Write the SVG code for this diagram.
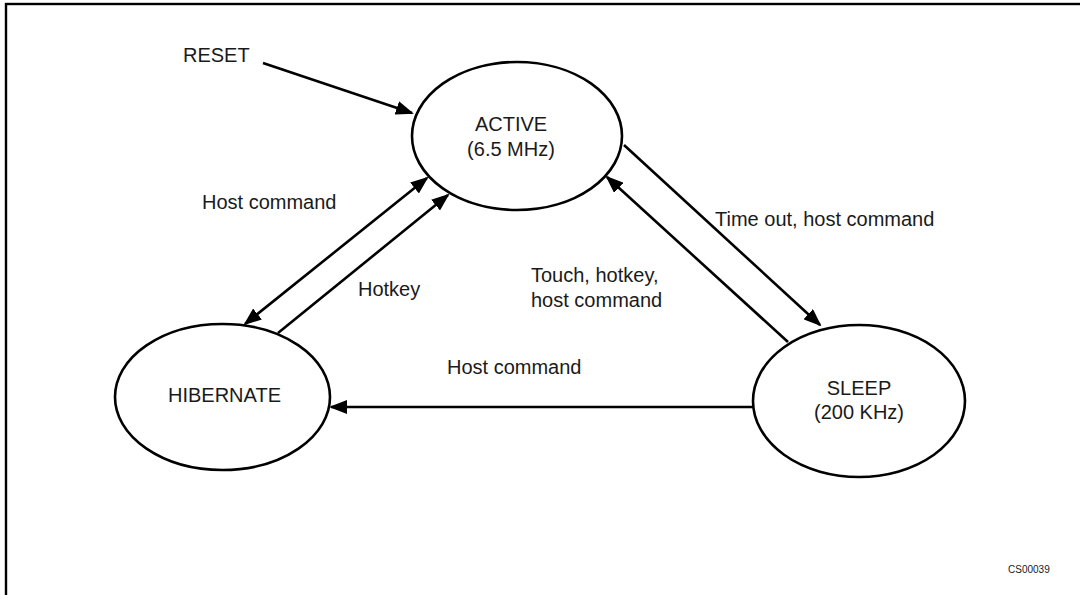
<svg xmlns="http://www.w3.org/2000/svg" width="1080" height="595" viewBox="0 0 1080 595">
  <defs>
    <style>
      .state { fill: #ffffff; stroke: #000000; stroke-width: 2.6; }
      .conn { fill: none; stroke: #000000; stroke-width: 2.6; }
      .lbl { font-family: "Liberation Sans", Arial, sans-serif; font-size: 20px; fill: #1a1a1a; }
      .mid { text-anchor: middle; }
      .small { font-family: "Liberation Sans", Arial, sans-serif; font-size: 10px; fill: #1a1a1a; }
    </style>
    <marker id="arrow" viewBox="0 0 18 14" refX="16" refY="7" markerWidth="18" markerHeight="14" markerUnits="userSpaceOnUse" orient="auto-start-reverse">
      <path d="M0,0 L18,7 L0,14 z" fill="#000000"/>
    </marker>
  </defs>

  <rect id="frame" x="6" y="4" width="1090" height="600" fill="#ffffff" stroke="#000000" stroke-width="2.4"/>

  <g id="connectors">
    <path class="conn" d="M263,63 L412,113" marker-end="url(#arrow)"/>
    <path class="conn" d="M245,324 L427,178" marker-start="url(#arrow)" marker-end="url(#arrow)"/>
    <path class="conn" d="M278,333 L448,195" marker-end="url(#arrow)"/>
    <path class="conn" d="M624,145 L820,325" marker-end="url(#arrow)"/>
    <path class="conn" d="M788,342 L607,177" marker-end="url(#arrow)"/>
    <path class="conn" d="M753,407 L331,407" marker-end="url(#arrow)"/>
  </g>

  <g id="active">
    <ellipse class="state" cx="517" cy="136" rx="105" ry="74"/>
    <text class="lbl mid" x="511" y="131">ACTIVE</text>
    <text class="lbl mid" x="511" y="156">(6.5 MHz)</text>
  </g>

  <g id="hibernate">
    <ellipse class="state" cx="222.5" cy="397" rx="107.5" ry="73"/>
    <text class="lbl mid" x="224.5" y="402">HIBERNATE</text>
  </g>

  <g id="sleep">
    <ellipse class="state" cx="859" cy="401" rx="106" ry="76"/>
    <text class="lbl mid" x="859" y="395">SLEEP</text>
    <text class="lbl mid" x="859" y="419">(200 KHz)</text>
  </g>

  <g id="labels">
    <text class="lbl" x="183" y="62">RESET</text>
    <text class="lbl" x="202" y="209">Host command</text>
    <text class="lbl" x="358" y="296">Hotkey</text>
    <text class="lbl" x="715" y="226">Time out, host command</text>
    <text class="lbl" x="531" y="282">Touch, hotkey,</text>
    <text class="lbl" x="531" y="307">host command</text>
    <text class="lbl" x="447" y="374">Host command</text>
    <text class="small" x="1008" y="573">CS00039</text>
  </g>
</svg>
